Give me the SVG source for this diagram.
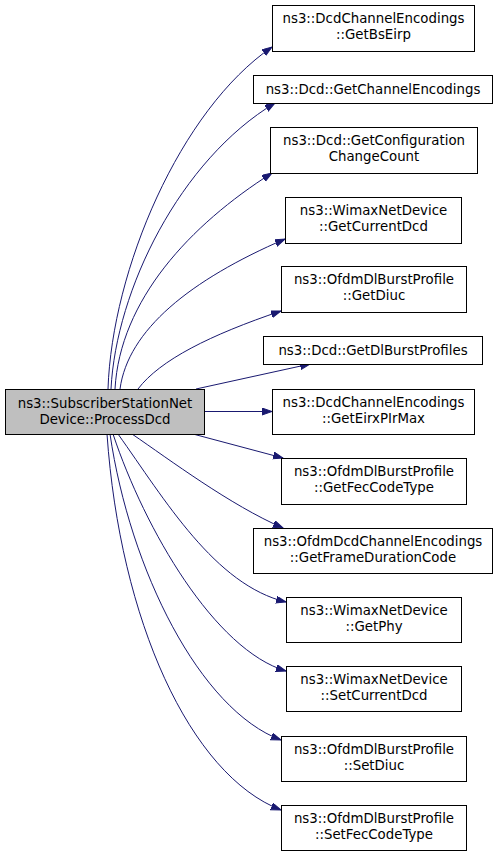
<svg xmlns="http://www.w3.org/2000/svg" width="499" height="856" viewBox="0 0 499 856">
<defs>
<marker id="arr" markerUnits="userSpaceOnUse" markerWidth="11" markerHeight="8" refX="10" refY="3.5" orient="auto">
<path d="M0,0 L10,3.5 L0,7 Z" fill="#191970" stroke="#191970" stroke-width="1"/>
</marker>
<style>
.n rect{fill:#ffffff;stroke:#000000;stroke-width:1}
.m rect{fill:#bfbfbf;stroke:#000000;stroke-width:1}
text{font-family:"DejaVu Sans","Liberation Sans",sans-serif;font-size:13.33px;fill:#000000;text-anchor:middle}
.e path{fill:none;stroke:#191970;stroke-width:1;marker-end:url(#arr)}
</style>
</defs>
<rect width="499" height="856" fill="#ffffff"/>
<g class="e" id="edges">
<path d="M108,389 C112,270 180,110 272,47"/>
<path d="M111,389 C116,290 180,160 275,103"/>
<path d="M115,389 C120,300 190,225 272,173"/>
<path d="M120,389 C128,330 190,280 285,239"/>
<path d="M138,389 C160,360 210,335 281,311"/>
<path d="M196,389 L310,364"/>
<path d="M204,411.5 L272,411.5"/>
<path d="M193,434 L283,458"/>
<path d="M132,434 C170,460 230,505 283,528"/>
<path d="M118,434 C165,500 215,585 286,602"/>
<path d="M113,434 C145,530 215,650 286,671"/>
<path d="M110,434 C130,570 200,710 281,740"/>
<path d="M107,434 C120,620 190,775 281,810"/>
</g>
<g id="main" class="m">
<rect x="5.5" y="389.5" width="199" height="45"/>
<text x="105" y="408">ns3::SubscriberStationNet</text>
<text x="105" y="424">Device::ProcessDcd</text>
</g>
<g id="n1" class="n">
<rect x="272.5" y="5.5" width="202" height="46"/>
<text x="373.5" y="23">ns3::DcdChannelEncodings</text>
<text x="373.5" y="39">::GetBsEirp</text>
</g>
<g id="n2" class="n">
<rect x="253.5" y="75.5" width="239" height="28"/>
<text x="373" y="93.5">ns3::Dcd::GetChannelEncodings</text>
</g>
<g id="n3" class="n">
<rect x="270.5" y="127.5" width="207" height="46"/>
<text x="374" y="145">ns3::Dcd::GetConfiguration</text>
<text x="374" y="161">ChangeCount</text>
</g>
<g id="n4" class="n">
<rect x="285.5" y="197.5" width="176" height="46"/>
<text x="373.5" y="215">ns3::WimaxNetDevice</text>
<text x="373.5" y="231">::GetCurrentDcd</text>
</g>
<g id="n5" class="n">
<rect x="281.5" y="266.5" width="185" height="46"/>
<text x="374" y="284">ns3::OfdmDlBurstProfile</text>
<text x="374" y="300">::GetDiuc</text>
</g>
<g id="n6" class="n">
<rect x="263.5" y="336.5" width="219" height="28"/>
<text x="373" y="354.5">ns3::Dcd::GetDlBurstProfiles</text>
</g>
<g id="n7" class="n">
<rect x="272.5" y="389.5" width="202" height="45"/>
<text x="373.5" y="407">ns3::DcdChannelEncodings</text>
<text x="373.5" y="423">::GetEirxPIrMax</text>
</g>
<g id="n8" class="n">
<rect x="281.5" y="458.5" width="185" height="46"/>
<text x="374" y="476">ns3::OfdmDlBurstProfile</text>
<text x="374" y="492">::GetFecCodeType</text>
</g>
<g id="n9" class="n">
<rect x="253.5" y="528.5" width="239" height="45"/>
<text x="373" y="546">ns3::OfdmDcdChannelEncodings</text>
<text x="373" y="562">::GetFrameDurationCode</text>
</g>
<g id="n10" class="n">
<rect x="286.5" y="597.5" width="175" height="45"/>
<text x="374" y="615">ns3::WimaxNetDevice</text>
<text x="374" y="631">::GetPhy</text>
</g>
<g id="n11" class="n">
<rect x="286.5" y="666.5" width="175" height="45"/>
<text x="374" y="684">ns3::WimaxNetDevice</text>
<text x="374" y="700">::SetCurrentDcd</text>
</g>
<g id="n12" class="n">
<rect x="281.5" y="736.5" width="185" height="45"/>
<text x="374" y="754">ns3::OfdmDlBurstProfile</text>
<text x="374" y="770">::SetDiuc</text>
</g>
<g id="n13" class="n">
<rect x="281.5" y="805.5" width="185" height="45"/>
<text x="374" y="823">ns3::OfdmDlBurstProfile</text>
<text x="374" y="839">::SetFecCodeType</text>
</g>
</svg>
